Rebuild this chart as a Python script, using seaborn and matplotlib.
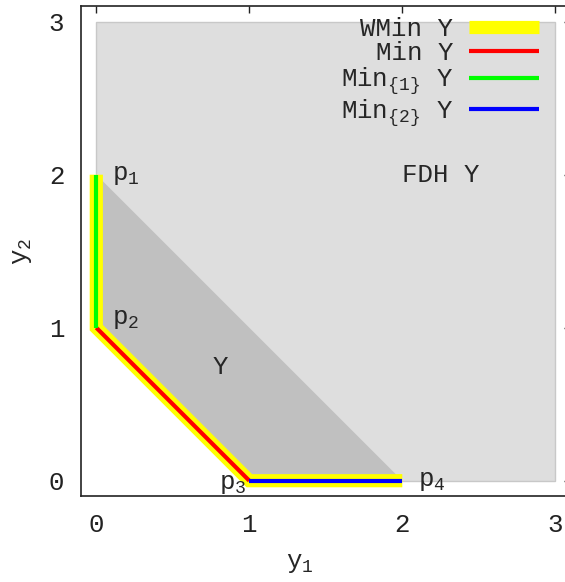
import matplotlib
matplotlib.use('Agg')
import matplotlib.pyplot as plt
import seaborn as sns

# points of Y
pt_x = [0, 0, 1, 2]
pt_y = [2, 1, 0, 0]
pt_names = ['p$_1$', 'p$_2$', 'p$_3$', 'p$_4$']

# free disposal hull outline (clipped to the 0..3 box)
fdh_x = [0, 0, 3, 3, 1]
fdh_y = [1, 3, 3, 0, 0]

# Y region
reg_x = [0, 0, 1, 2]
reg_y = [2, 1, 0, 0]

# pieces of the frontier
wmin_x, wmin_y = [0, 0, 1, 2], [2, 1, 0, 0]
min_x, min_y = [0, 1], [1, 0]
min1_x, min1_y = [0, 0], [2, 1]
min2_x, min2_y = [1, 2], [0, 0]

ticks = [0, 1, 2, 3]

sns.set_style('white')
plt.rcParams['font.family'] = ['Liberation Mono', 'DejaVu Sans']
plt.rcParams['mathtext.fontset'] = 'custom'
plt.rcParams['mathtext.rm'] = 'Liberation Mono'
plt.rcParams['mathtext.it'] = 'Liberation Mono'
plt.rcParams['mathtext.default'] = 'rm'

fs = 18.5

fig = plt.figure(figsize=(5.65, 5.82), dpi=100)
ax = fig.add_axes([81 / 565, 86 / 582, 489.6 / 565, 489.6 / 582])

ax.fill(fdh_x, fdh_y, facecolor='#dedede', edgecolor='#c8c8c8', linewidth=1, zorder=1)
ax.fill(reg_x, reg_y, facecolor='#c0c0c0', edgecolor='none', zorder=2)

sns.lineplot(x=wmin_x, y=wmin_y, sort=False, estimator=None, color='#ffff00', linewidth=9.5,
             label='WMin Y', ax=ax, zorder=3)
sns.lineplot(x=min_x, y=min_y, sort=False, estimator=None, color='#ff0000', linewidth=3,
             label='Min Y', ax=ax, zorder=4)
sns.lineplot(x=min1_x, y=min1_y, sort=False, estimator=None, color='#00ff00', linewidth=3,
             label='Min$_{\\{1\\}}$ Y', ax=ax, zorder=4)
sns.lineplot(x=min2_x, y=min2_y, sort=False, estimator=None, color='#0000ff', linewidth=3,
             label='Min$_{\\{2\\}}$ Y', ax=ax, zorder=4)
for ln in ax.get_lines():
    ln.set_solid_capstyle('butt')
    ln.set_solid_joinstyle('miter')

# point labels
ax.text(pt_x[0] + 0.1, pt_y[0], pt_names[0], fontsize=fs, ha='left', va='center', zorder=6)
ax.text(pt_x[1] + 0.1, pt_y[1] + 0.06, pt_names[1], fontsize=fs, ha='left', va='center', zorder=6)
ax.text(pt_x[2] - 0.02, pt_y[2] - 0.02, pt_names[2], fontsize=fs, ha='right', va='center', zorder=6)
ax.text(pt_x[3] + 0.1, pt_y[3], pt_names[3], fontsize=fs, ha='left', va='center', zorder=6)
ax.text(0.81, 0.74, 'Y', fontsize=fs, ha='center', va='center', zorder=6)
ax.text(2.0, 2.0, 'FDH Y', fontsize=fs, ha='left', va='center', zorder=6)

ax.set_xlim(-0.1, 3.1)
ax.set_ylim(-0.1, 3.1)
ax.set_xticks(ticks)
ax.set_yticks(ticks)
ax.tick_params(direction='in', length=5, width=1, top=True, right=True,
               labelsize=fs, pad=12, colors='#222222')
for sp in ax.spines.values():
    sp.set_color('#222222')
    sp.set_linewidth(1.2)

ax.set_xlabel('y$_1$', fontsize=fs)
ax.set_ylabel('y$_2$', fontsize=fs)
ax.xaxis.set_label_coords((300 - 81) / 489.6, -0.112)
ax.yaxis.set_label_coords(-0.095, 0.5)

leg = ax.legend(loc='upper right', bbox_to_anchor=(0.936, 0.978), frameon=False,
                markerfirst=False, fontsize=fs, handlelength=2.75, handletextpad=0.6,
                labelspacing=0.0, borderpad=0, borderaxespad=0)
for col in leg._legend_handle_box.get_children():
    col.align = 'right'

fig.savefig('out.png', dpi=100)
